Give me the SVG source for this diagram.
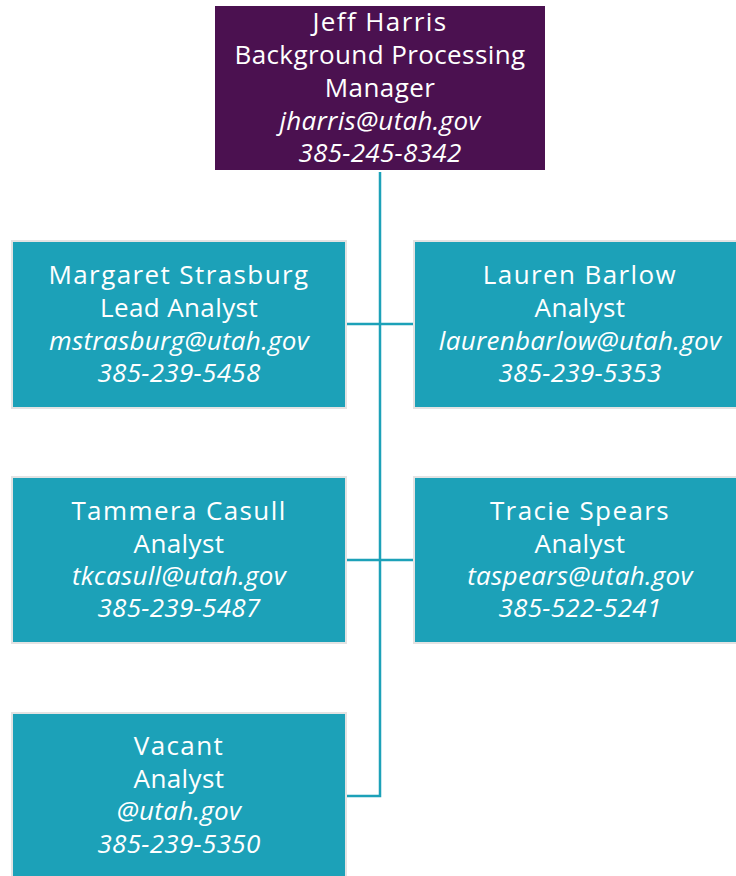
<svg xmlns="http://www.w3.org/2000/svg" width="736" height="876" viewBox="0 0 736 876">
<style>
.box{fill:#1ca1b8;stroke:#e3e3e3;stroke-width:2}
.mgr{fill:#4b1150}
text{font-family:"Open Sans","Noto Sans",sans-serif;font-size:26px;font-weight:400;fill:#ffffff;text-anchor:middle;letter-spacing:1.4px}
.i{font-style:italic;letter-spacing:0.3px}
.t{letter-spacing:0.4px}
.conn{stroke:#1ca1b8;stroke-width:2.5;fill:none}
</style>
<g id="connectors">
<path class="conn" d="M380 172V796H346"/>
<path class="conn" d="M346 324H414"/>
<path class="conn" d="M346 560H414"/>
</g>
<g id="jeff">
<rect class="mgr" x="215" y="6" width="330" height="164"/>
<text x="380" y="31">Jeff Harris</text>
<text class="t" x="380" y="64">Background Processing</text>
<text class="t" x="380" y="97">Manager</text>
<text class="i" x="380" y="130">jharris@utah.gov</text>
<text class="i" x="380" y="162">385-245-8342</text>
</g>
<g id="margaret">
<rect class="box" x="12" y="241" width="334" height="167"/>
<text x="179" y="284">Margaret Strasburg</text>
<text class="t" x="179" y="317">Lead Analyst</text>
<text class="i" x="179" y="350">mstrasburg@utah.gov</text>
<text class="i" x="179" y="382">385-239-5458</text>
</g>
<g id="lauren">
<rect class="box" x="414" y="241" width="334" height="167"/>
<text x="580" y="284">Lauren Barlow</text>
<text class="t" x="580" y="317">Analyst</text>
<text class="i" x="580" y="350">laurenbarlow@utah.gov</text>
<text class="i" x="580" y="382">385-239-5353</text>
</g>
<g id="tammera">
<rect class="box" x="12" y="477" width="334" height="166"/>
<text x="179" y="520">Tammera Casull</text>
<text class="t" x="179" y="553">Analyst</text>
<text class="i" x="179" y="585">tkcasull@utah.gov</text>
<text class="i" x="179" y="617">385-239-5487</text>
</g>
<g id="tracie">
<rect class="box" x="414" y="477" width="334" height="166"/>
<text x="580" y="520">Tracie Spears</text>
<text class="t" x="580" y="553">Analyst</text>
<text class="i" x="580" y="585">taspears@utah.gov</text>
<text class="i" x="580" y="617">385-522-5241</text>
</g>
<g id="vacant">
<rect class="box" x="12" y="713" width="334" height="170"/>
<text x="179" y="755">Vacant</text>
<text class="t" x="179" y="788">Analyst</text>
<text class="i" x="179" y="820">@utah.gov</text>
<text class="i" x="179" y="853">385-239-5350</text>
</g>
</svg>
